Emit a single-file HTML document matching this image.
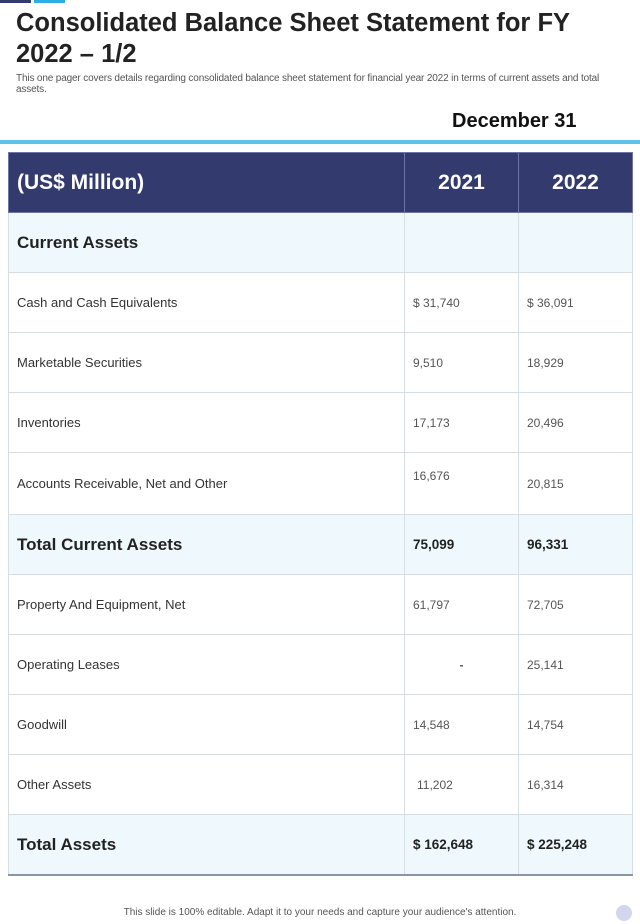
<!DOCTYPE html>
<html><head><meta charset="utf-8"><style>
body{margin:0;width:640px;height:924px;background:#fff;font-family:"Liberation Sans",sans-serif;position:relative;overflow:hidden;color:#222}
.a{position:absolute}
table{position:absolute;left:8px;top:152px;width:624px;border-collapse:collapse;table-layout:fixed}
td{border:1px solid #d6dde3;height:59px;padding:0 0 0 8px;font-size:13px;color:#333;overflow:hidden}
tr.h td{background:#323a6e;color:#fff;font-weight:bold;font-size:21px;border-color:#6b75a8}
tr.h td.c{text-align:center;padding:0}
tr.s td{background:#eef8fd}
tr.s td.l{font-size:17px;font-weight:bold;color:#222}
tr.s td.v{font-weight:bold;font-size:13.5px;color:#222}
td.v{font-size:12px;color:#555}
tr:last-child td{border-bottom:2px solid #8a96a8}
</style></head><body>
<div class="a" style="left:0;top:0;width:31px;height:3px;background:#323a6e"></div>
<div class="a" style="left:34px;top:0;width:31px;height:3px;background:#2ab0e0"></div>
<div class="a" style="left:16px;top:8px;font-size:25.5px;font-weight:bold;line-height:31px;color:#222">Consolidated Balance Sheet Statement for FY<br>2022 – 1/2</div>
<div class="a" style="left:16px;top:73px;width:606px;font-size:10px;line-height:11px;color:#555;letter-spacing:-0.15px">This one pager covers details regarding consolidated balance sheet statement for financial year 2022 in terms of current assets and total assets.</div>
<div class="a" style="left:452px;top:110px;font-size:20px;font-weight:bold;color:#111">December 31</div>
<div class="a" style="left:0;top:140px;width:640px;height:4px;background:#5ec3e8"></div>
<table>
<colgroup><col style="width:396px"><col style="width:114px"><col style="width:114px"></colgroup>
<tr class="h"><td>(US$ Million)</td><td class="c">2021</td><td class="c">2022</td></tr>
<tr class="s"><td class="l">Current Assets</td><td></td><td></td></tr>
<tr><td>Cash and Cash Equivalents</td><td class="v">$ 31,740</td><td class="v">$ 36,091</td></tr>
<tr><td>Marketable Securities</td><td class="v">9,510</td><td class="v">18,929</td></tr>
<tr><td>Inventories</td><td class="v">17,173</td><td class="v">20,496</td></tr>
<tr><td style="height:61px">Accounts Receivable, Net and Other</td><td class="v"><span style="position:relative;top:-8px">16,676</span></td><td class="v">20,815</td></tr>
<tr class="s"><td class="l">Total Current Assets</td><td class="v">75,099</td><td class="v">96,331</td></tr>
<tr><td>Property And Equipment, Net</td><td class="v">61,797</td><td class="v">72,705</td></tr>
<tr><td>Operating Leases</td><td class="v" style="text-align:center;padding:0;font-weight:bold">-</td><td class="v">25,141</td></tr>
<tr><td>Goodwill</td><td class="v">14,548</td><td class="v">14,754</td></tr>
<tr><td>Other Assets</td><td class="v" style="padding-left:12px">11,202</td><td class="v">16,314</td></tr>
<tr class="s"><td class="l">Total Assets</td><td class="v">$ 162,648</td><td class="v">$ 225,248</td></tr>
</table>
<div class="a" style="left:0;top:907px;width:640px;text-align:center;font-size:10px;color:#555">This slide is 100% editable. Adapt it to your needs and capture your audience's attention.</div>
<div class="a" style="left:616px;top:905px;width:16px;height:16px;border-radius:50%;background:#d3d6ee"></div>
</body></html>
